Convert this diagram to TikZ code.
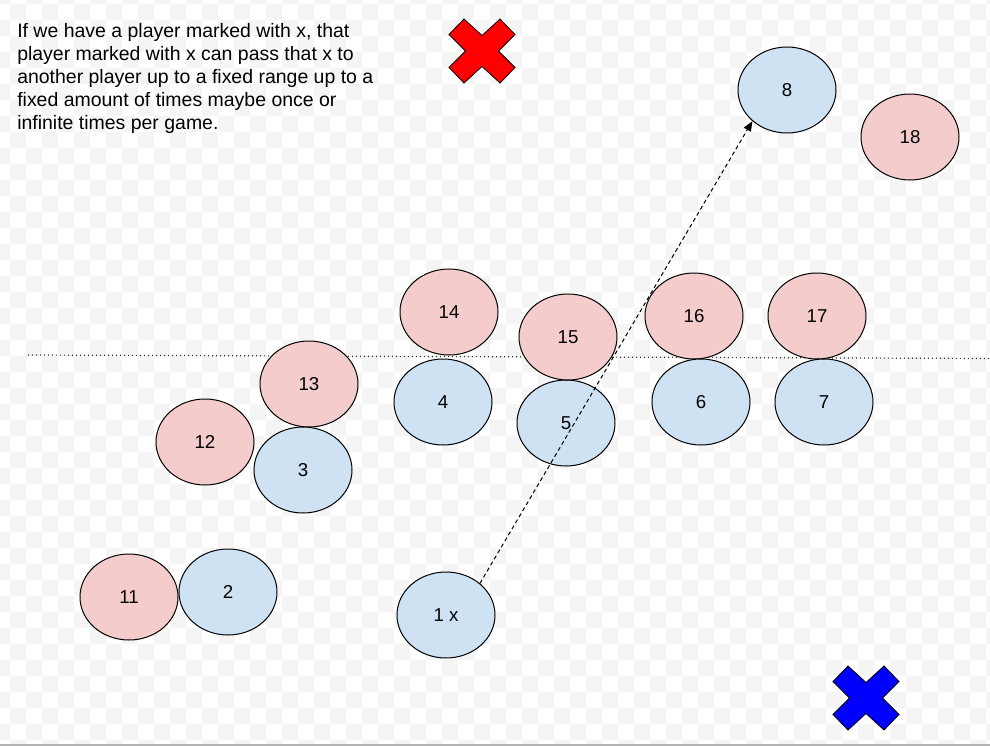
\documentclass[tikz,border=0pt]{standalone}
\usepackage{fontspec}
\setmainfont{Liberation Sans}
\usetikzlibrary{shapes.geometric,arrows.meta}
\definecolor{bluefill}{HTML}{CFE2F3}
\definecolor{redfill}{HTML}{F4CCCC}
\definecolor{checkgrey}{HTML}{F5F5F5}
\definecolor{edgegrey}{HTML}{B4B4B4}
\tikzset{
  player/.style={ellipse, draw=black, line width=0.75pt, minimum width=73.5pt, minimum height=64.5pt, inner sep=0pt, font=\fontsize{14}{16}\selectfont},
  blueplayer/.style={player, fill=bluefill},
  redplayer/.style={player, fill=redfill},
  crossshape/.style={draw=black, line width=0.6pt},
  passarrow/.style={draw=black, line width=0.75pt, dash pattern=on 3pt off 2.25pt, -{Triangle[length=7.5pt,width=6pt]}},
  midline/.style={draw=black!80, line width=0.9pt, dash pattern=on 0.9pt off 2.1pt},
  note/.style={anchor=north west, inner sep=0pt, align=left, font=\fontsize{14.6}{17.25}\selectfont}
}
\begin{document}
\begin{tikzpicture}[x=0.75pt, y=-0.75pt]
\useasboundingbox (0,0) rectangle (990,746);
% canvas background
\fill[white] (0,0) rectangle (990,746);
\begin{scope}
\clip (0,0) rectangle (990,746);
\foreach \i in {0,2,...,62}{
  \foreach \j in {0,2,...,48}{
    \fill[checkgrey] (-6+16*\i,-12+16*\j) rectangle ++(16,16);
    \fill[checkgrey] (10+16*\i,4+16*\j) rectangle ++(16,16);
  }
}
\end{scope}
\draw[edgegrey, line width=0.9pt] (0,745) -- (990,745);

% note
\node[note] (txt) at (17,23) {If we have a player marked with x, that\\player marked with x can pass that x to\\another player up to a fixed range up to a\\fixed amount of times maybe once or\\infinite times per game.};

% crosses
\coordinate (rc) at (482,51);
\coordinate (bc) at (866,698);
\foreach \c/\col in {rc/red, bc/blue}{
  \fill[\col] ([shift={(-33,-16.5)}]\c) -- ([shift={(-18,-32)}]\c) -- ([shift={(0,-15.5)}]\c)
     -- ([shift={(18,-32)}]\c) -- ([shift={(33,-16.5)}]\c) -- ([shift={(16.5,0)}]\c)
     -- ([shift={(33,16.5)}]\c) -- ([shift={(18,32)}]\c) -- ([shift={(0,15.5)}]\c)
     -- ([shift={(-18,32)}]\c) -- ([shift={(-33,16.5)}]\c) -- ([shift={(-16.5,0)}]\c) -- cycle;
  \draw[crossshape] ([shift={(-33,-16.5)}]\c) -- ([shift={(-18,-32)}]\c) -- ([shift={(0,-15.5)}]\c)
     -- ([shift={(18,-32)}]\c) -- ([shift={(33,-16.5)}]\c) -- ([shift={(16.5,0)}]\c)
     -- ([shift={(33,16.5)}]\c) -- ([shift={(18,32)}]\c) -- ([shift={(0,15.5)}]\c)
     -- ([shift={(-18,32)}]\c) -- ([shift={(-33,16.5)}]\c) -- ([shift={(-16.5,0)}]\c) -- cycle;
}

% dotted middle line
\coordinate (mlA) at (28,355);
\coordinate (mlB) at (990,358.5);
\draw[midline] (mlA) -- (mlB);

% players
\node[blueplayer] (p8) at (787,90) {8};
\node[redplayer] (p18) at (910,137) {18};
\node[redplayer] (p14) at (449,312) {14};
\node[redplayer] (p16) at (694,316) {16};
\node[redplayer] (p17) at (817,316) {17};
\node[redplayer] (p13) at (309,384) {13};
\node[blueplayer] (p4) at (443,402) {4};
\node[blueplayer] (p5) at (566,423) {5};
\node[redplayer] (p15) at (568,337) {15};
\node[blueplayer] (p6) at (701,402) {6};
\node[blueplayer] (p7) at (824,402) {7};
\node[redplayer] (p12) at (205,442) {12};
\node[blueplayer] (p3) at (303,470) {3};
\node[redplayer] (p11) at (129,597) {11};
\node[blueplayer] (p2) at (228,592) {2};
\node[blueplayer] (p1) at (446,615) {1 x};

% pass arrow
\draw[passarrow] (p1.43) -- (p8.222);
\end{tikzpicture}
\end{document}
